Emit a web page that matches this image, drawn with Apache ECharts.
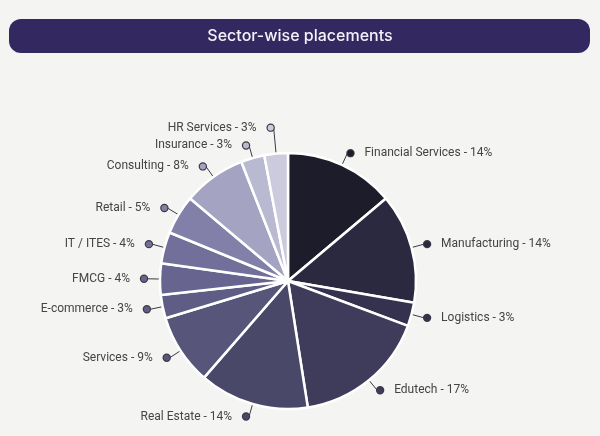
<!DOCTYPE html>
<html lang="en">
<head>
<meta charset="UTF-8">
<title>Sector-wise placements</title>
<script src="https://cdn.jsdelivr.net/npm/echarts@6/dist/echarts.min.js"></script>
<style>
html, body { margin: 0; padding: 0; background: #f4f4f2; }
#chart { width: 600px; height: 436px; }
</style>
</head>
<body>
<div id="chart"></div>
<script>
// sectors, clockwise from 12 o'clock
const sectors = ['Financial Services', 'Manufacturing', 'Logistics', 'Edutech', 'Real Estate', 'Services',
  'E-commerce', 'FMCG', 'IT / ITES', 'Retail', 'Consulting', 'Insurance', 'HR Services'];
const shares = [14, 14, 3, 17, 14, 9, 3, 4, 4, 5, 8, 3, 3];
const sliceColors = ['#1d1c2b', '#2b293f', '#34324e', '#3e3c5a', '#4a4869', '#575579',
  '#5f5d85', '#67658f', '#72709a', '#8280a8', '#a4a3c2', '#bab9d2', '#cccbdd'];

const total = shares.reduce((a, b) => a + b, 0);
let acc = 0;
const pieData = sectors.map(function(name, i) {
  const mid = (acc + shares[i] / 2) / total;
  acc += shares[i];
  const right = mid < 0.5;
  const dot = { width: 6, height: 6, borderRadius: 4, backgroundColor: sliceColors[i], borderColor: '#3a3a44', borderWidth: 1.2 };
  const item = {
    name: name,
    value: shares[i],
    itemStyle: { color: sliceColors[i] },
    label: {
      formatter: right ? '{dot|}{sp|}{b} - {c}%' : '{b} - {c}%{sp|}{dot|}',
      rich: { dot: dot, sp: { width: 11 } }
    }
  };
  // last thin slice sits right next to Insurance: lift its label clear
  if (mid > 0.98) item.labelLine = { length: 26 };
  return item;
});

const chart = echarts.init(document.getElementById('chart'));
chart.setOption({
  backgroundColor: '#f4f4f2',
  animation: false,
  graphic: [
    { type: 'rect', shape: { x: 9, y: 19, width: 581, height: 34, r: 12 }, style: { fill: '#33285f' } },
    { type: 'text', x: 300, y: 36, style: { text: 'Sector-wise placements', fill: '#f4f2fb', font: '500 16px Inter, "Noto Sans", sans-serif', textAlign: 'center', textVerticalAlign: 'middle' } }
  ],
  series: [{
    type: 'pie',
    center: [288, 281],
    radius: [0, 128],
    startAngle: 90,
    clockwise: true,
    avoidLabelOverlap: false,
    itemStyle: { borderColor: '#ffffff', borderWidth: 2.5 },
    label: {
      show: true,
      color: '#444444',
      fontFamily: 'Roboto, sans-serif',
      fontSize: 12,
      distanceToLabelLine: 0
    },
    labelLine: {
      show: true,
      length: 13,
      length2: 0,
      lineStyle: { color: '#3a3a44', width: 1 }
    },
    emphasis: { disabled: true },
    data: pieData
  }]
});
</script>
</body>
</html>
